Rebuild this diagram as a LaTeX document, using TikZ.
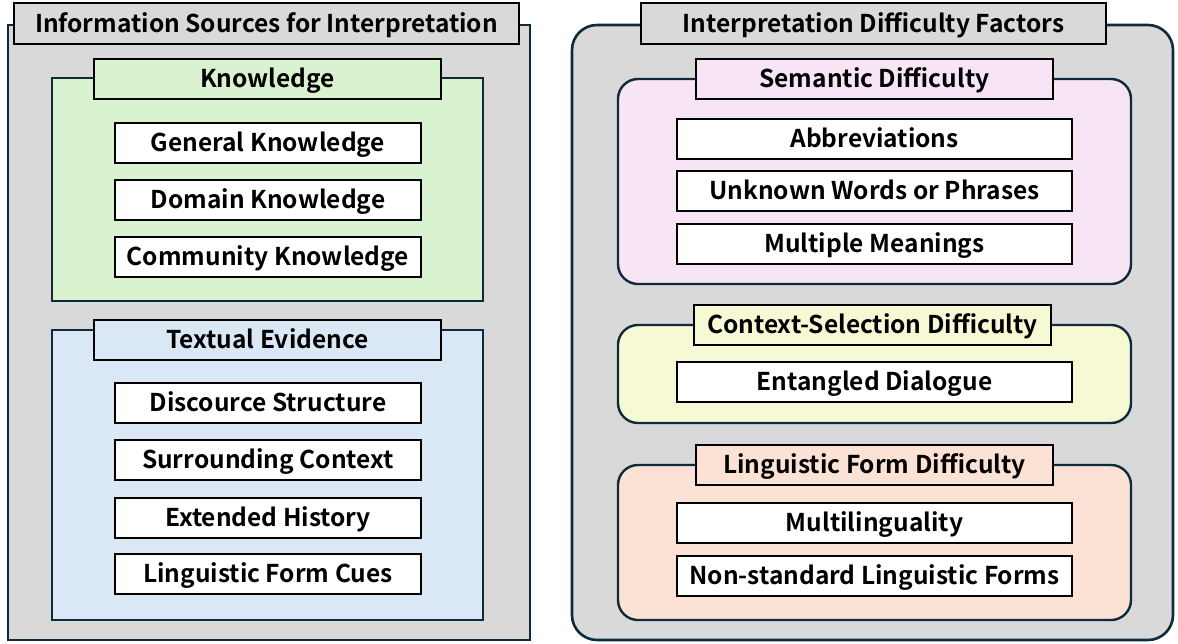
\documentclass[tikz,border=0pt]{standalone}
\usepackage{fontspec}
\setmainfont{Noto Sans CJK JP}[BoldFont={Noto Sans CJK JP Bold}]
\definecolor{navy}{HTML}{0E2A3B}
\definecolor{panelgray}{HTML}{D9D9D9}
\definecolor{kgreen}{HTML}{D9F2D0}
\definecolor{tblue}{HTML}{DAE8F5}
\definecolor{spink}{HTML}{F7E5F6}
\definecolor{cyellow}{HTML}{F7F8D4}
\definecolor{lpeach}{HTML}{FBE2D5}
\tikzset{
  outerpanel/.style={draw=navy, line width=2.6pt, fill=panelgray, inner sep=0pt},
  innerpanel/.style={draw=navy, line width=2.4pt, inner sep=0pt},
  lowtext/.style={text height=19pt, text depth=2pt},
  titlebox/.style={draw=black, line width=2pt, inner sep=0pt, lowtext, font=\bfseries\fontsize{24.5}{26}\selectfont},
  itembox/.style={draw=black, line width=2pt, fill=white, inner sep=0pt, lowtext, minimum height=40pt, font=\bfseries\fontsize{24.5}{26}\selectfont},
}
\begin{document}
\begin{tikzpicture}[x=1pt,y=-1pt]
\useasboundingbox (0,0) rectangle (1178,643);
% left
\node[outerpanel, minimum width=522pt, minimum height=615pt] (lout) at (269,332.5) {};
\node[titlebox, fill=panelgray, minimum width=505pt, minimum height=41pt] (ltitle) at (266.5,23.5) {Information Sources for Interpretation};
\node[innerpanel, fill=kgreen, minimum width=431pt, minimum height=223pt] (kpanel) at (267.5,189.5) {};
\node[titlebox, fill=kgreen, minimum width=347pt, minimum height=40pt] (ktitle) at (267.5,79) {Knowledge};
\node[itembox, minimum width=306pt] (k1) at (268,143) {General Knowledge};
\node[itembox, minimum width=306pt] (k2) at (268,200) {Domain Knowledge};
\node[itembox, minimum width=306pt] (k3) at (268,257) {Community Knowledge};
\node[innerpanel, fill=tblue, minimum width=431pt, minimum height=290pt] (tpanel) at (267.5,475) {};
\node[titlebox, fill=tblue, minimum width=347pt, minimum height=40pt] (ttitle) at (267.5,340) {Textual Evidence};
\node[itembox, minimum width=306pt] (t1) at (268,403) {Discource Structure};
\node[itembox, minimum width=306pt] (t2) at (268,460) {Surrounding Context};
\node[itembox, minimum width=306pt] (t3) at (268,518) {Extended History};
\node[itembox, minimum width=306pt] (t4) at (268,574) {Linguistic Form Cues};
% right
\node[outerpanel, rounded corners=25pt, minimum width=601pt, minimum height=615pt] (rout) at (872.5,332.5) {};
\node[titlebox, fill=panelgray, minimum width=465pt, minimum height=41pt] (rtitle) at (873.5,23.5) {Interpretation Difficulty Factors};
\node[innerpanel, rounded corners=20pt, fill=spink, minimum width=513pt, minimum height=205pt] (spanel) at (874.5,181.5) {};
\node[titlebox, fill=spink, minimum width=357pt, minimum height=40pt] (stitle) at (874.5,79) {Semantic Difficulty};
\node[itembox, minimum width=395pt] (s1) at (874.5,139) {Abbreviations};
\node[itembox, minimum width=395pt] (s2) at (874.5,191) {Unknown Words or Phrases};
\node[itembox, minimum width=395pt] (s3) at (874.5,244) {Multiple Meanings};
\node[innerpanel, rounded corners=20pt, fill=cyellow, minimum width=513pt, minimum height=98pt] (cpanel) at (874.5,374) {};
\node[titlebox, fill=cyellow, minimum width=357pt, minimum height=40pt] (ctitle) at (872.5,325) {Context-Selection Difficulty};
\node[itembox, minimum width=395pt] (c1) at (874.5,382) {Entangled Dialogue};
\node[innerpanel, rounded corners=20pt, fill=lpeach, minimum width=513pt, minimum height=155pt] (lpanel) at (874.5,542.5) {};
\node[titlebox, fill=lpeach, minimum width=357pt, minimum height=40pt] (ltitle2) at (874.5,465) {Linguistic Form Difficulty};
\node[itembox, minimum width=395pt] (l1) at (874.5,523) {Multilinguality};
\node[itembox, minimum width=395pt] (l2) at (874.5,576) {Non-standard Linguistic Forms};
\end{tikzpicture}
\end{document}
